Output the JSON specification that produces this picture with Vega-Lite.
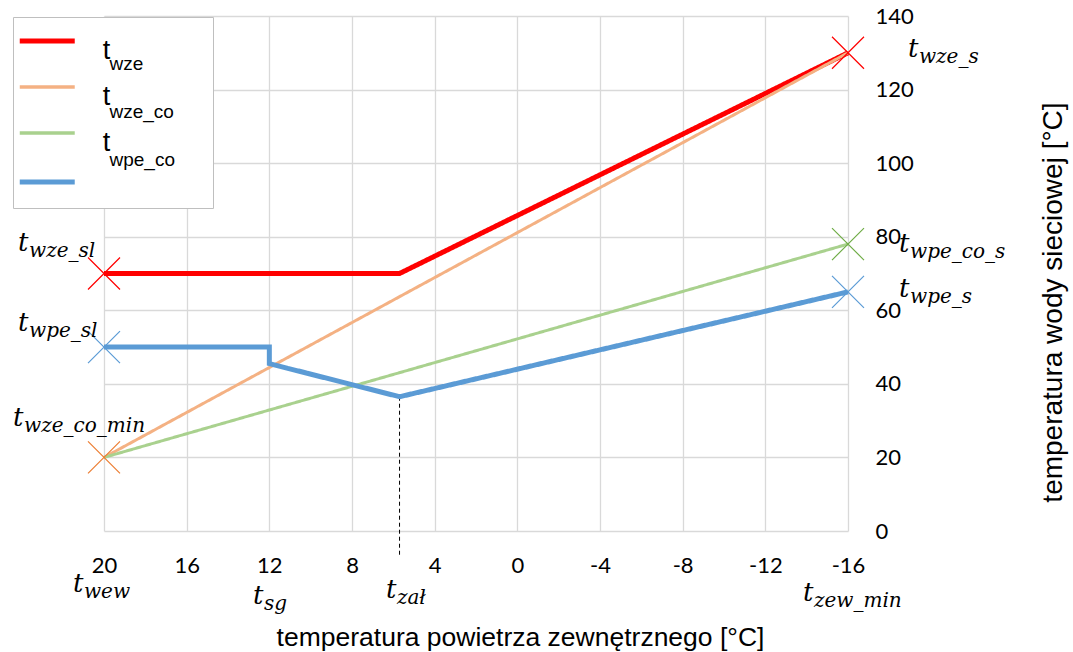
{
  "$schema": "https://vega.github.io/schema/vega-lite/v6.json",
  "width": 744,
  "height": 515,
  "autosize": {"type": "none"},
  "padding": {"left": 104, "top": 16, "right": 225, "bottom": 121},
  "background": "white",
  "config": {
    "view": {"stroke": null},
    "axis": {
      "grid": true, "gridColor": "#d9d9d9", "gridWidth": 1.3,
      "domain": false, "ticks": false, "tickSize": 0,
      "labelFont": "Lato", "labelFontSize": 22, "labelColor": "#000",
      "titleFont": "Liberation Sans", "titleFontWeight": "normal", "titleColor": "#000",
      "labelFlush": false, "labelOverlap": false
    }
  },
  "datasets": {
    "lines": [
      {"series": "twze", "sub": "wze", "i": 1, "x": 20, "y": 70},
      {"series": "twze", "sub": "wze", "i": 2, "x": 5.7, "y": 70},
      {"series": "twze", "sub": "wze", "i": 3, "x": -16, "y": 130},
      {"series": "twze_co", "sub": "wze_co", "i": 1, "x": 20, "y": 20},
      {"series": "twze_co", "sub": "wze_co", "i": 2, "x": -16, "y": 130},
      {"series": "twpe_co", "sub": "wpe_co", "i": 1, "x": 20, "y": 20},
      {"series": "twpe_co", "sub": "wpe_co", "i": 2, "x": -16, "y": 78},
      {"series": "twpe", "sub": "-", "i": 1, "x": 20, "y": 50},
      {"series": "twpe", "sub": "-", "i": 2, "x": 12, "y": 50},
      {"series": "twpe", "sub": "-", "i": 3, "x": 12, "y": 45.5},
      {"series": "twpe", "sub": "-", "i": 4, "x": 5.7, "y": 36.5},
      {"series": "twpe", "sub": "-", "i": 5, "x": -16, "y": 65}
    ],
    "markers": [
      {"m": "twze", "x": 20, "y": 70},
      {"m": "twze", "x": -16, "y": 130},
      {"m": "twpe", "x": 20, "y": 50},
      {"m": "twpe", "x": -16, "y": 65},
      {"m": "twze_co", "x": 20, "y": 20},
      {"m": "twpe_co", "x": -16, "y": 78}
    ],
    "knee": [{"x": 5.7, "y": 36.5, "y2": -6.5}],
    "ann": [
      {"x": 24.16, "y": 76.1, "main": "t", "sub": "wze_sl"},
      {"x": 24.16, "y": 54.4, "main": "t", "sub": "wpe_sl"},
      {"x": 24.4, "y": 28.5, "main": "t", "sub": "wze_co_min"},
      {"x": -18.9, "y": 128.9, "main": "t", "sub": "wze_s"},
      {"x": -18.47, "y": 75.8, "main": "t", "sub": "wpe_co_s"},
      {"x": -18.47, "y": 63.6, "main": "t", "sub": "wpe_s"},
      {"x": 21.5, "y": -16.6, "main": "t", "sub": "wew"},
      {"x": 12.79, "y": -19.8, "main": "t", "sub": "sg"},
      {"x": 6.36, "y": -18.2, "main": "t", "sub": "zał"},
      {"x": -13.82, "y": -19.0, "main": "t", "sub": "zew_min"}
    ]
  },
  "encoding": {
    "x": {
      "field": "x", "type": "quantitative",
      "scale": {"domain": [-16, 20], "reverse": true, "nice": false, "zero": false},
      "axis": {
        "orient": "bottom", "values": [20, 16, 12, 8, 4, 0, -4, -8, -12, -16],
        "labelExpr": "'' + datum.value",
        "labelPadding": 24, "labelBaseline": "top",
        "title": "temperatura powietrza zewnętrznego [°C]", "titleFontSize": 26.5,
        "titleX": 416, "titleY": 114, "titleAlign": "center", "titleBaseline": "alphabetic"
      }
    },
    "y": {
      "field": "y", "type": "quantitative",
      "scale": {"domain": [0, 140], "nice": false, "zero": false},
      "axis": {
        "orient": "right", "values": [0, 20, 40, 60, 80, 100, 120, 140],
        "labelPadding": 27,
        "title": "temperatura wody sieciowej [°C]", "titleFontSize": 28,
        "titleAngle": 270, "titleX": 213, "titleY": 286, "titleAlign": "center", "titleBaseline": "alphabetic"
      }
    }
  },
  "resolve": {"scale": {"color": "independent"}},
  "layer": [
    {
      "data": {"name": "knee"},
      "mark": {"type": "rule", "color": "#000", "strokeWidth": 1, "strokeDash": [4, 3]},
      "encoding": {"y2": {"field": "y2"}}
    },
    {
      "data": {"name": "lines"},
      "mark": {"type": "line", "strokeJoin": "miter"},
      "encoding": {
        "order": {"field": "i", "type": "quantitative"},
        "color": {
          "field": "series", "type": "nominal",
          "scale": {"domain": ["twze", "twze_co", "twpe_co", "twpe"], "range": ["#ff0000", "#f4b183", "#a9d18e", "#5b9bd5"]},
          "legend": {
            "orient": "none", "legendX": -70.25, "legendY": 21.4, "title": null,
            "symbolType": "M-2,-0.727H2", "symbolSize": 756, "symbolStrokeWidth": 5,
            "labelFont": "Liberation Sans", "labelFontSize": 27, "labelColor": "#000",
            "labelBaseline": "middle", "labelOffset": 42, "rowPadding": 15, "padding": 0,
            "labelExpr": "datum.label == 'twpe' ? '' : 't'",
            "encode": {
              "symbols": {"update": {"strokeWidth": {"signal": "datum.label == 'twze' || datum.label == 'twpe' ? 5 : 3.5"}}}
            }
          }
        },
        "strokeWidth": {
          "field": "series", "type": "nominal",
          "scale": {"type": "ordinal", "domain": ["twze", "twze_co", "twpe_co", "twpe"], "range": [5, 3, 3, 5]},
          "legend": null
        },
        "strokeDash": {
          "field": "sub", "type": "nominal",
          "scale": {"domain": ["wze", "wze_co", "wpe_co", "-"], "range": [[1, 0], [1, 0], [1, 0], [1, 0]]},
          "legend": {
            "orient": "none", "legendX": -91, "legendY": 1, "title": null,
            "values": ["wze", "wze_co", "wpe_co"],
            "symbolType": "M0,9h1", "symbolSize": 4, "symbolStrokeWidth": 1, "symbolOpacity": 0,
            "labelFont": "Liberation Sans", "labelFontSize": 19, "labelColor": "#000",
            "labelBaseline": "middle", "labelOffset": 40, "rowPadding": 28, "padding": 37.5,
            "fillColor": "white", "strokeColor": "#bfbfbf"
          }
        }
      }
    },
    {
      "data": {"name": "markers"},
      "mark": {"type": "point", "shape": "M-1,-1L1,1M-1,1L1,-1", "size": 1024, "filled": false, "strokeWidth": 1.2, "opacity": 1},
      "encoding": {
        "color": {
          "field": "m", "type": "nominal",
          "scale": {"domain": ["twze", "twze_co", "twpe_co", "twpe"], "range": ["#ff0000", "#ed7d31", "#70ad47", "#5b9bd5"]},
          "legend": null
        }
      }
    },
    {
      "data": {"name": "ann"},
      "mark": {"type": "text", "align": "left", "baseline": "alphabetic", "font": "DejaVu Serif", "fontStyle": "italic", "fontSize": 26, "color": "#000"},
      "encoding": {"text": {"field": "main"}}
    },
    {
      "data": {"name": "ann"},
      "mark": {"type": "text", "align": "left", "baseline": "alphabetic", "font": "DejaVu Serif", "fontStyle": "italic", "fontSize": 20, "dx": 11, "dy": 6, "color": "#000"},
      "encoding": {"text": {"field": "sub"}}
    }
  ]
}
